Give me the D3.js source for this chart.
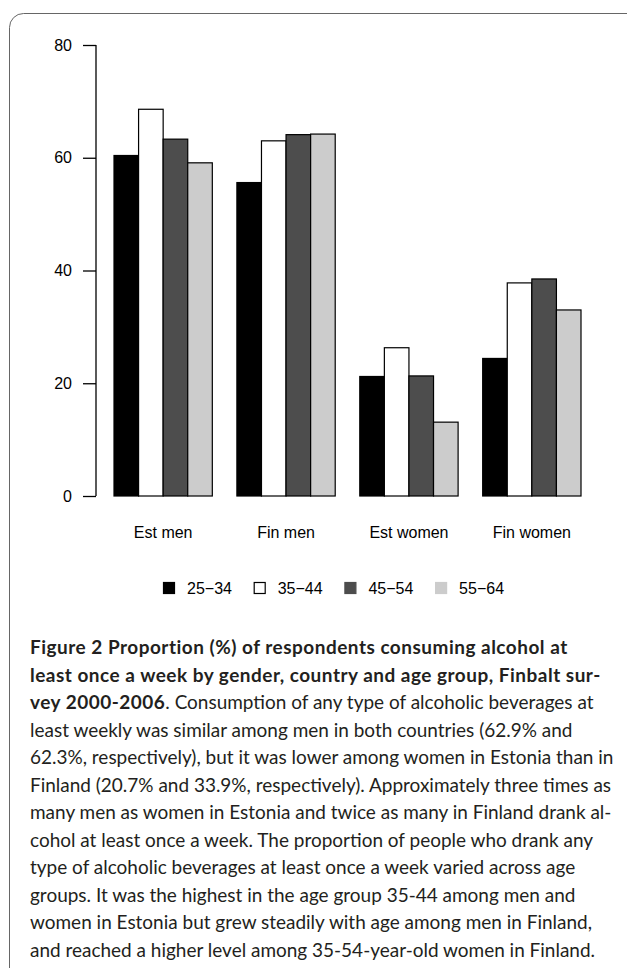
<!DOCTYPE html>
<html>
<head>
<meta charset="utf-8">
<script src="https://cdn.jsdelivr.net/npm/d3@7"></script>
<style>
  html, body { margin: 0; padding: 0; background: #fff; }
  svg { display: block; }
</style>
</head>
<body>
<svg id="fig" width="627" height="968"></svg>
<script>
// Weekly alcohol consumption (%) by group and age band
const categories = ["Est men", "Fin men", "Est women", "Fin women"];
const ageGroups = ["25\u221234", "35\u221244", "45\u221254", "55\u221264"];
const est_men   = [60.4, 68.6, 63.3, 59.1];
const fin_men   = [55.6, 63.0, 64.1, 64.2];
const est_women = [21.2, 26.3, 21.3, 13.1];
const fin_women = [24.4, 37.8, 38.5, 33.0];
const yTicks = [0, 20, 40, 60, 80];
const fills = ["#000000", "#ffffff", "#4d4d4d", "#cccccc"];

const captionLines = [
  [{b: true, t: "Figure 2 Proportion (%) of respondents consuming alcohol at"}],
  [{b: true, t: "least once a week by gender, country and age group, Finbalt sur-"}],
  [{b: true, t: "vey 2000-2006"}, {b: false, t: ". Consumption of any type of alcoholic beverages at"}],
  [{b: false, t: "least weekly was similar among men in both countries (62.9% and"}],
  [{b: false, t: "62.3%, respectively), but it was lower among women in Estonia than in"}],
  [{b: false, t: "Finland (20.7% and 33.9%, respectively). Approximately three times as"}],
  [{b: false, t: "many men as women in Estonia and twice as many in Finland drank al-"}],
  [{b: false, t: "cohol at least once a week. The proportion of people who drank any"}],
  [{b: false, t: "type of alcoholic beverages at least once a week varied across age"}],
  [{b: false, t: "groups. It was the highest in the age group 35-44 among men and"}],
  [{b: false, t: "women in Estonia but grew steadily with age among men in Finland,"}],
  [{b: false, t: "and reached a higher level among 35-54-year-old women in Finland."}]
];

const table = categories.map((c, i) => ({
  category: c,
  values: [est_men, fin_men, est_women, fin_women][i]
}));

const svg = d3.select("#fig");

// panel frame with rounded corners
svg.append("rect")
  .attr("x", 9.5).attr("y", 13.5)
  .attr("width", 640).attr("height", 1000)
  .attr("rx", 14).attr("ry", 14)
  .attr("fill", "none")
  .attr("stroke", "#666")
  .attr("stroke-width", 1);

const axisFont = "'Liberation Sans', Arial, Helvetica, sans-serif";

const y = d3.scaleLinear().domain([0, 80]).range([496, 45]);
const x0 = d3.scaleBand().domain(categories).range([114, 581])
  .paddingInner(0.2).paddingOuter(0);
const x1 = d3.scaleBand().domain(d3.range(ageGroups.length))
  .range([0, x0.bandwidth()]).padding(0);

// y axis (R style: ticks pointing outward, line spans tick range)
const yAxis = d3.axisLeft(y).tickValues(yTicks).tickSize(13).tickPadding(11)
  .tickFormat(d3.format("d"));
const gy = svg.append("g").attr("transform", "translate(96,0)").call(yAxis);
gy.select(".domain").attr("d", `M0,${y(0)}V${y(80)}`)
  .attr("stroke", "#000").attr("stroke-width", 1.3);
gy.selectAll(".tick line").attr("stroke", "#000").attr("stroke-width", 1.3);
gy.selectAll(".tick text")
  .attr("font-family", axisFont).attr("font-size", 16).attr("fill", "#000");

// bars
const groups = svg.append("g").selectAll("g")
  .data(table).join("g")
  .attr("transform", d => `translate(${x0(d.category)},0)`);

groups.selectAll("rect")
  .data(d => d.values.map((v, k) => ({v, k})))
  .join("rect")
  .attr("x", d => x1(d.k))
  .attr("y", d => y(d.v))
  .attr("width", x1.bandwidth())
  .attr("height", d => y(0) - y(d.v))
  .attr("fill", d => fills[d.k])
  .attr("stroke", "#000")
  .attr("stroke-width", 1.2);

// category labels
svg.append("g").selectAll("text")
  .data(categories).join("text")
  .attr("x", d => x0(d) + x0.bandwidth() / 2)
  .attr("y", 538)
  .attr("text-anchor", "middle")
  .attr("font-family", axisFont)
  .attr("font-size", 16)
  .attr("fill", "#000")
  .text(d => d);

// legend
const legendStep = 90.7;
const legend = svg.append("g").selectAll("g")
  .data(ageGroups).join("g")
  .attr("transform", (d, i) => `translate(${163 + i * legendStep},582)`);
legend.append("rect")
  .attr("x", 0.5).attr("y", 0.5)
  .attr("width", 11).attr("height", 11)
  .attr("fill", (d, i) => fills[i])
  .attr("stroke", (d, i) => i === 1 ? "#000" : fills[i])
  .attr("stroke-width", 1.2);
legend.append("text")
  .attr("x", 24).attr("y", 12)
  .attr("font-family", axisFont)
  .attr("font-size", 16)
  .attr("fill", "#000")
  .text(d => d);

// caption
const capFont = "Lato, 'Open Sans', sans-serif";
const cap = svg.append("g");
const lineY0 = 648, lineGap = 27.5;
const texts = cap.selectAll("text")
  .data(captionLines).join("text")
  .attr("x", 30)
  .attr("y", (d, i) => lineY0 + i * lineGap + 6)
  .attr("font-family", capFont)
  .attr("font-size", 18)
  .attr("fill", "#231f20");
texts.selectAll("tspan")
  .data(d => d).join("tspan")
  .attr("font-weight", d => d.b ? 700 : 400)
  .attr("letter-spacing", d => d.b ? 0.5 : 0)
  .text(d => d.t);

// size the caption so its widest line ends at the right margin
const widths = texts.nodes().map(n => n.getComputedTextLength());
const target = 584;
const size = 18 * target / d3.max(widths);
texts.attr("font-size", size);
</script>
</body>
</html>
